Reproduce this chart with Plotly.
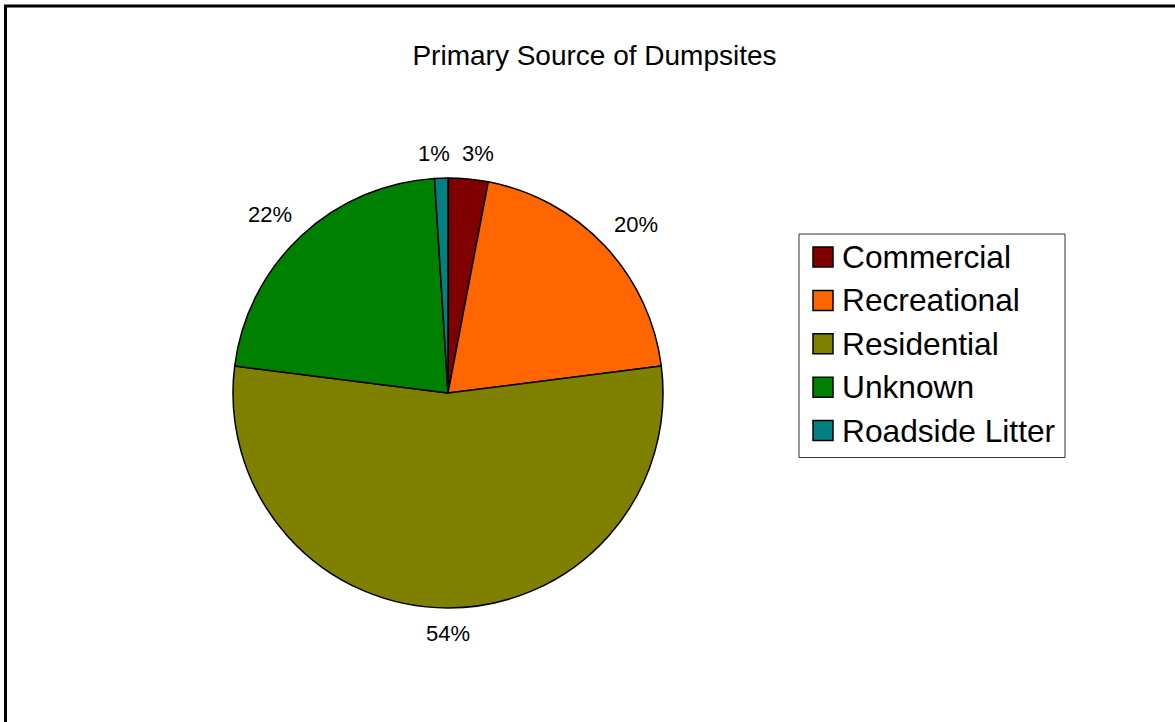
import math
import plotly.graph_objects as go

# Dumpsite sources and their share of all sites (percent)
categories = ["Commercial", "Recreational", "Residential", "Unknown", "Roadside Litter"]
shares = [3, 20, 54, 22, 1]
colors = ["#800000", "#FF6600", "#808000", "#008000", "#008080"]

W, H = 1175, 722
FONT = "Liberation Sans, Arial, sans-serif"
LABEL_SIZE = 22


def px(x):
    return x / W


def py(y):
    return 1 - y / H


def clamp(v, lo=-1.0, hi=1.0):
    return max(lo, min(hi, v))


# pie box in pixels (left, top, right, bottom)
PIE_L, PIE_T, PIE_R, PIE_B = 233, 178, 663, 608
CX, CY = (PIE_L + PIE_R) / 2, (PIE_T + PIE_B) / 2
RADIUS = (PIE_R - PIE_L) / 2
LABEL_GAP = 13          # space between rim and the nearest corner of a label
MIN_SEP = 12            # minimum horizontal space between neighbouring labels

fig = go.Figure()

fig.add_trace(go.Pie(
    labels=categories,
    values=shares,
    sort=False,
    direction="clockwise",
    rotation=0,
    marker=dict(colors=colors, line=dict(color="black", width=1.5)),
    textinfo="none",
    domain=dict(x=[px(PIE_L), px(PIE_R)], y=[py(PIE_B), py(PIE_T)]),
    showlegend=False,
    hoverinfo="label+percent",
))

# ---- percentage labels placed outside the rim, along each slice's mid angle
DIGIT_W, PCT_W = 0.556, 0.889   # Arial advance widths (em)
total = sum(shares)
labels = []
acc = 0.0
for v in shares:
    mid = (acc + v / 2) / total * 2 * math.pi      # clockwise from 12 o'clock
    acc += v
    txt = f"{round(100 * v / total)}%"
    hw = ((len(txt) - 1) * DIGIT_W + PCT_W) * LABEL_SIZE / 2
    hh = LABEL_SIZE * 0.55
    dx, dy = math.sin(mid), -math.cos(mid)
    x = CX + dx * (RADIUS + LABEL_GAP) + hw * clamp(2 * dx)
    y = CY + dy * (RADIUS + LABEL_GAP) + hh * clamp(2 * dy)
    labels.append(dict(text=txt, x=x, y=y, hw=hw, hh=hh))

# separate labels that would collide (e.g. the two small slices at the top)
n = len(labels)
for i in range(n):
    a, b = labels[i], labels[(i + 1) % n]
    if abs(a["y"] - b["y"]) < a["hh"] + b["hh"]:
        left, right = (a, b) if a["x"] < b["x"] else (b, a)
        need = left["hw"] + right["hw"] + MIN_SEP - (right["x"] - left["x"])
        if need > 0:
            left["x"] -= need / 2
            right["x"] += need / 2

annotations = [dict(text=lb["text"], xref="paper", yref="paper",
                    x=px(lb["x"]), y=py(lb["y"]), xanchor="center", yanchor="middle",
                    showarrow=False,
                    font=dict(family=FONT, size=LABEL_SIZE, color="black"))
               for lb in labels]

shapes = []

# Outer frame (left and top edges visible)
shapes.append(dict(type="line", xref="paper", yref="paper",
                   x0=px(5.5), x1=px(5.5), y0=py(6), y1=py(740),
                   line=dict(color="black", width=3)))
shapes.append(dict(type="line", xref="paper", yref="paper",
                   x0=px(4), x1=px(1200), y0=py(6), y1=py(6),
                   line=dict(color="black", width=3)))

# Legend box
shapes.append(dict(type="rect", xref="paper", yref="paper",
                   x0=px(799), x1=px(1065), y0=py(234), y1=py(457.5),
                   line=dict(color="#333333", width=1), fillcolor="white"))

row0, step = 257, 43.4
for i, (name, col) in enumerate(zip(categories, colors)):
    cy = row0 + i * step
    shapes.append(dict(type="rect", xref="paper", yref="paper",
                       x0=px(813), x1=px(833), y0=py(cy - 10), y1=py(cy + 10),
                       line=dict(color="black", width=1.5), fillcolor=col))
    annotations.append(dict(text=name, xref="paper", yref="paper",
                            x=px(840), y=py(cy), xanchor="left", yanchor="middle",
                            showarrow=False,
                            font=dict(family=FONT, size=31.7, color="black")))

fig.update_layout(
    width=W, height=H,
    margin=dict(l=0, r=0, t=0, b=0),
    paper_bgcolor="white",
    plot_bgcolor="white",
    title=dict(text="Primary Source of Dumpsites", x=px(594.5), xanchor="center",
               y=py(55), yanchor="middle",
               font=dict(family=FONT, size=28, color="black")),
    shapes=shapes,
    annotations=annotations,
)

fig.write_html("out.html")
